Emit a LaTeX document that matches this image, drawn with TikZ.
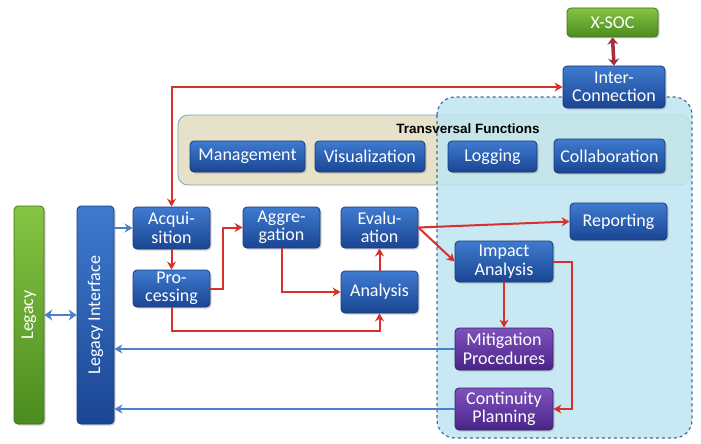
\documentclass[tikz,border=0pt]{standalone}
\usepackage{fontspec}
\setmainfont{Carlito}
\newfontfamily\titlefont{Liberation Sans}
\usetikzlibrary{arrows.meta, positioning, shadows}
\definecolor{bluetop}{HTML}{3F7BD0}
\definecolor{bluebottom}{HTML}{1A4592}
\definecolor{blueedge}{HTML}{163B7C}
\definecolor{purpletop}{HTML}{7F52BE}
\definecolor{purplebottom}{HTML}{4A2488}
\definecolor{purpleedge}{HTML}{3C1D70}
\definecolor{greentop}{HTML}{86C443}
\definecolor{greenbottom}{HTML}{4C8C1F}
\definecolor{greenedge}{HTML}{3F7419}
\definecolor{flowred}{HTML}{D8302A}
\definecolor{xsocred}{HTML}{A3303C}
\definecolor{feedblue}{HTML}{4A80CC}
\definecolor{regionfill}{HTML}{BFE6F1}
\definecolor{regionedge}{HTML}{3F6E9E}
\definecolor{beige}{HTML}{E6E1C8}
\definecolor{beigeedge}{HTML}{78AAB6}
\newcommand{\boxfont}{\fontsize{18}{18.5}\selectfont}
\tikzset{
    block/.style={rectangle, rounded corners=4pt, draw=blueedge, line width=0.8pt, top color=bluetop, bottom color=bluebottom, text=white, font=\boxfont, align=center, inner sep=1pt, drop shadow={opacity=0.35, shadow xshift=1.5pt, shadow yshift=-1.5pt}},
    purpleblock/.style={block, draw=purpleedge, top color=purpletop, bottom color=purplebottom},
    greenblock/.style={block, draw=greenedge, top color=greentop, bottom color=greenbottom},
    flow/.style={draw=flowred, line width=2pt, -{Stealth[length=8pt, width=9pt]}},
    feed/.style={draw=feedblue, line width=1.5pt, -{Stealth[length=8pt, width=9pt]}},
}
\begin{document}
\begin{tikzpicture}[x=1pt, y=-1pt]

    \useasboundingbox (0,0) rectangle (701,444);
    \fill[white] (0,0) rectangle (701,444);

    % Areas
    \draw[fill=beige, draw=beigeedge, line width=0.8pt, rounded corners=10pt] (178,115) rectangle (690,185);
    \draw[fill=regionfill, fill opacity=0.85, draw=regionedge, line width=1.2pt, dashed, rounded corners=18pt] (437,97) rectangle (692,438);
    \node[font=\titlefont\bfseries\fontsize{13.5}{14}\selectfont] (transtitle) at (468,129) {Transversal Functions};

    % Nodes
    \node[greenblock, minimum width=91pt, minimum height=29pt] (xsoc) at (612.5,22.5) {X-SOC};
    \node[block, minimum width=102pt, minimum height=42pt] (inter) at (614,87) {Inter-\\Connection};

    \node[block, minimum width=115pt, minimum height=31pt] (mgmt) at (247.5,156.5) {Management};
    \node[block, minimum width=110pt, minimum height=31pt] (visu) at (370,156.5) {Visualization};
    \node[block, minimum width=89pt, minimum height=31pt] (logging) at (492.5,156.5) {Logging};
    \node[block, minimum width=111pt, minimum height=34pt] (collab) at (609.5,156) {Collaboration};

    \node[greenblock, minimum width=30pt, minimum height=218pt] (legacy) at (29,315) {\rotatebox{90}{Legacy}};
    \node[block, minimum width=37pt, minimum height=218pt] (legif) at (95.5,315) {\rotatebox{90}{Legacy Interface}};

    \node[block, minimum width=77pt, minimum height=42pt] (acq) at (171.5,228) {Acqui-\\sition};
    \node[block, minimum width=77pt, minimum height=37pt] (proc) at (171.5,288.5) {Pro-\\cessing};
    \node[block, minimum width=77pt, minimum height=41pt] (aggr) at (281.5,227.5) {Aggre-\\gation};
    \node[block, minimum width=77pt, minimum height=41pt] (eval) at (379.5,227.5) {Evalu-\\ation};
    \node[block, minimum width=77pt, minimum height=42pt] (analysis) at (379.5,292) {Analysis};

    \node[block, minimum width=97pt, minimum height=37pt] (report) at (618.5,221.5) {Reporting};
    \node[block, minimum width=98pt, minimum height=41pt] (impact) at (504,261.5) {Impact\\Analysis};
    \node[purpleblock, minimum width=98pt, minimum height=42pt] (mitig) at (504,349) {Mitigation\\Procedures};
    \node[purpleblock, minimum width=98pt, minimum height=42pt] (contin) at (504,409) {Continuity\\Planning};

    % Arrows
    \draw[draw=xsocred, line width=3.5pt, {Stealth[length=7pt, width=11pt]}-{Stealth[length=7pt, width=11pt]}] (xsoc.south) -- (inter.north);
    \draw[flow, {Stealth[length=8pt, width=9pt]}-{Stealth[length=8pt, width=9pt]}] (acq.north) |- (inter.west);
    \draw[feed, line width=2.5pt, {Stealth[length=8pt, width=11pt]}-{Stealth[length=8pt, width=11pt]}] (legacy.east) -- (legif.west);
    \draw[feed] (legif.east |- acq.west) -- (acq.west);
    \draw[flow] (acq.south) -- (proc.north);
    \draw[flow] (proc.east) -- ++(13,0) |- (aggr.west);
    \draw[flow] (aggr.south) |- (analysis.west);
    \draw[flow] (proc.south) -- ++(0,24) -| (analysis.south);
    \draw[flow] (analysis.north) -- (eval.south);
    \draw[flow] (eval.east) -- (report.west);
    \draw[flow] (eval.east) -- (impact.west);
    \draw[flow] (impact.south) -- (mitig.north);
    \draw[flow] (impact.east) -- ++(19,0) |- (contin.east);
    \draw[feed] (mitig.west) -- (legif.east |- mitig.west);
    \draw[feed] (contin.west) -- (legif.east |- contin.west);

\end{tikzpicture}
\end{document}
